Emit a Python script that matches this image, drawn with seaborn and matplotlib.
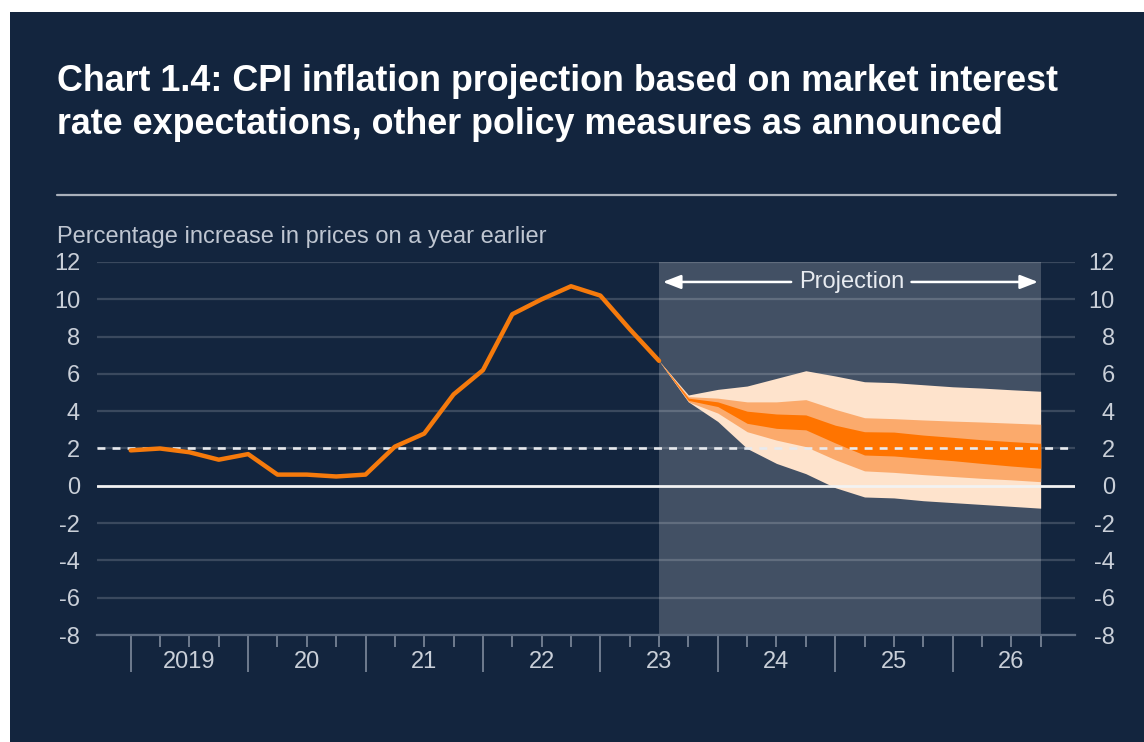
import numpy as np
import pandas as pd
import matplotlib
matplotlib.use("Agg")
import matplotlib.pyplot as plt
import matplotlib.transforms as mtransforms
from matplotlib.patches import Rectangle
from matplotlib.lines import Line2D
import seaborn as sns

# ---------------- data ----------------
# Quarterly index: 0 = 2019 Q1
hist_q = list(range(19))
hist_cpi = [1.9, 2.0, 1.8, 1.4, 1.7, 0.6, 0.6, 0.5, 0.6, 2.1, 2.8, 4.9,
            6.2, 9.2, 10.0, 10.7, 10.2, 8.4, 6.7]

proj_q = list(range(18, 32))
outer_hi = [6.7, 4.87, 5.17, 5.35, 5.76, 6.17, 5.89, 5.58, 5.53, 5.42, 5.31, 5.24, 5.15, 5.07]
mid_hi   = [6.7, 4.78, 4.70, 4.50, 4.50, 4.62, 4.10, 3.65, 3.60, 3.53, 3.47, 3.42, 3.36, 3.30]
dark_hi  = [6.7, 4.70, 4.50, 4.00, 3.85, 3.80, 3.25, 2.90, 2.88, 2.72, 2.60, 2.47, 2.37, 2.28]
dark_lo  = [6.7, 4.58, 4.25, 3.35, 3.08, 3.00, 2.30, 1.65, 1.60, 1.47, 1.35, 1.20, 1.06, 0.94]
mid_lo   = [6.7, 4.50, 3.90, 2.90, 2.45, 2.10, 1.40, 0.80, 0.72, 0.60, 0.50, 0.40, 0.32, 0.22]
outer_lo = [6.7, 4.50, 3.45, 2.00, 1.20, 0.65, -0.10, -0.60, -0.65, -0.80, -0.90, -1.00, -1.10, -1.20]

year_labels = ["2019", "20", "21", "22", "23", "24", "25", "26"]
y_ticks = [12, 10, 8, 6, 4, 2, 0, -2, -4, -6, -8]
target = 2
title_lines = ["Chart 1.4: CPI inflation projection based on market interest",
               "rate expectations, other policy measures as announced"]
y_label = "Percentage increase in prices on a year earlier"
proj_label = "Projection"

# ---------------- style ----------------
NAVY = "#13253e"
sns.set_theme(style="dark")
plt.rcParams["font.family"] = ["Liberation Sans", "DejaVu Sans"]
plt.rcParams["axes.unicode_minus"] = False

W, H = 1144, 742
fig = plt.figure(figsize=(W / 100, H / 100), dpi=100, facecolor="white")
bg = Rectangle((10 / W, 0), 1 - 10 / W, 1 - 12 / H, transform=fig.transFigure,
               facecolor=NAVY, edgecolor="none", zorder=-10)
fig.patches.append(bg)

ax = fig.add_axes([96.7 / W, 1 - 635 / H, (1075 - 96.7) / W, 373 / H])
ax.set_zorder(1)
ax.set_facecolor(NAVY)
ax.set_xlim(-1.158, 32.17)
ax.set_ylim(-8, 12)

# projection shading
ax.axvspan(18, 31, color="white", alpha=0.2, lw=0, zorder=0.5)

# gridlines
for v in y_ticks:
    if v == 0:
        continue
    ax.axhline(v, color="white", alpha=0.17, lw=1.6, zorder=1)

# fan bands
ax.fill_between(proj_q, outer_lo, outer_hi, color="#fee3cc", lw=0, zorder=2)
ax.fill_between(proj_q, mid_lo, mid_hi, color="#fbaa6c", lw=0, zorder=2.1)
ax.fill_between(proj_q, dark_lo, dark_hi, color="#ff7400", lw=0, zorder=2.2)

# reference lines
ax.axhline(0, color="#f2f2f2", lw=2.0, zorder=3)
ax.axhline(target, color="#e8eaee", lw=1.9, ls=(0, (3.0, 2.7)), zorder=3)

# history line
df = pd.DataFrame({"q": hist_q, "cpi": hist_cpi})
sns.lineplot(data=df, x="q", y="cpi", ax=ax, color="#f57a0c", lw=3.2,
             zorder=4, legend=False)

# projection annotation
ya = 10.93
ax.text(24.55, ya, proj_label, ha="center", va="center", fontsize=17,
        color="#e8ebf0", zorder=5)
arrow_kw = dict(arrowstyle="-|>,head_length=0.9,head_width=0.35",
                color="white", lw=1.8, shrinkA=0, shrinkB=0)
ax.annotate("", xy=(18.13, ya), xytext=(22.5, ya), arrowprops=arrow_kw, zorder=5)
ax.annotate("", xy=(30.91, ya), xytext=(26.6, ya), arrowprops=arrow_kw, zorder=5)

# spines
for s in ["top", "left", "right"]:
    ax.spines[s].set_visible(False)
ax.spines["bottom"].set_color("#5d6c81")
ax.spines["bottom"].set_linewidth(1.6)
ax.set_xlabel("")
ax.set_ylabel("")

# x ticks
major = list(range(0, 29, 4))
minor = [i for i in range(0, 32) if i % 4 != 0]
ax.set_xticks(major)
ax.set_xticklabels([""] * len(major))
ax.set_xticks(minor, minor=True)
mlabels = [year_labels[i // 4] if i % 4 == 2 else "" for i in minor]
ax.set_xticklabels(mlabels, minor=True)
ax.tick_params(axis="x", which="major", length=26.6, width=1.2,
               color="#7f8b9c", direction="out", bottom=True)
ax.tick_params(axis="x", which="minor", length=8.6, width=1.2,
               color="#7f8b9c", direction="out", bottom=True, pad=3.0,
               labelsize=17, labelcolor="#c9cfd8")

# y ticks both sides
ax.set_yticks(y_ticks)
ax.set_yticklabels([str(v) for v in y_ticks])
ax.tick_params(axis="y", which="major", length=0, labelsize=17,
               labelcolor="#c9cfd8", left=False, right=False,
               labelleft=True, labelright=True, pad=12)
off = mtransforms.ScaledTranslation((1115 - 1075) / 100, 0, fig.dpi_scale_trans)
for t in ax.yaxis.get_major_ticks():
    t.label2.set_horizontalalignment("right")
    t.label2.set_transform(ax.get_yaxis_transform(which="tick2") + off)

ax.grid(False)

# title, separator and unit label
fig.text(56.7 / W, 1 - 90.7 / H, title_lines[0], fontsize=25.8, fontweight="bold",
         color="white", va="baseline", ha="left")
fig.text(56.7 / W, 1 - 134 / H, title_lines[1], fontsize=25.8, fontweight="bold",
         color="white", va="baseline", ha="left")
fig.lines.append(Line2D([57 / W, 1116 / W], [1 - 195 / H, 1 - 195 / H],
                        transform=fig.transFigure, color="#a9b0bb", lw=1.6))
fig.text(57 / W, 1 - 243 / H, y_label, fontsize=17, color="#bfc6d1",
         va="baseline", ha="left")

fig.savefig("out.png", dpi=100, facecolor=fig.get_facecolor())
